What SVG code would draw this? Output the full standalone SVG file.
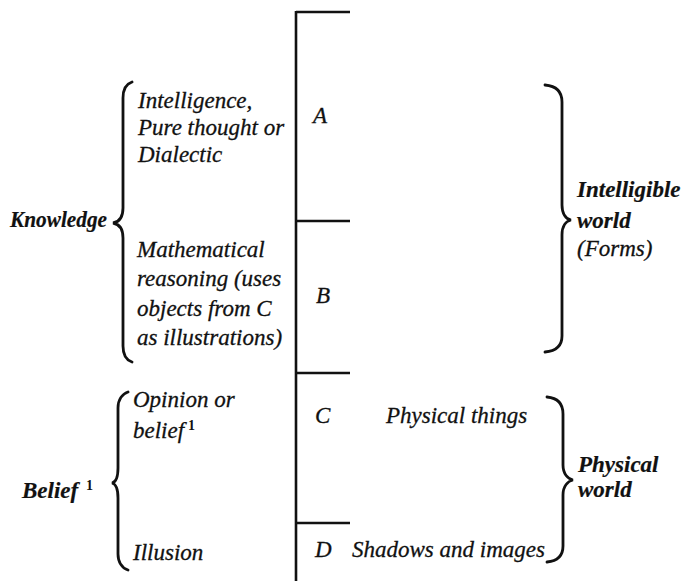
<svg xmlns="http://www.w3.org/2000/svg" width="682" height="581" viewBox="0 0 682 581">
<style>
.t{font-family:"Liberation Serif","Times New Roman",serif;font-style:italic;font-size:23px;fill:#111;stroke:#111;stroke-width:0.3}
.b{font-weight:bold;stroke-width:0.2}
.sup{font-family:"Liberation Serif",serif;font-style:normal;font-weight:bold;font-size:14px;fill:#111}
.ln{stroke:#111;stroke-width:2.6;fill:none}
.br{stroke:#111;stroke-width:2.8;fill:none;stroke-linecap:round}
</style>
<rect width="682" height="581" fill="#fff"/>
<g id="divided-line">
<line class="ln" x1="296" y1="11" x2="296" y2="581"/>
<line class="ln" x1="296" y1="12" x2="350" y2="12"/>
<line class="ln" x1="296" y1="221" x2="350" y2="221"/>
<line class="ln" x1="296" y1="373" x2="350" y2="373"/>
<line class="ln" x1="296" y1="523" x2="350" y2="523"/>
</g>
<g id="connectors">
<path class="br" d="M132,82 C126,84 123,90 123,98 L123,208 C123,217 119,222 113,223 C119,224 123,229 123,238 L123,346 C123,354 126,360 132,362"/>
<path class="br" d="M128,392 C122,394 118,400 118,408 L118,468 C118,477 116,482 112,483 C116,484 118,489 118,498 L118,554 C118,562 122,568 128,570"/>
<path class="br" d="M545,85 C556,86 562,92 562,102 L562,205 C562,214 566,219 571,220 C566,221 562,226 562,235 L562,336 C562,346 556,351 545,352"/>
<path class="br" d="M547,397 C558,398 563,404 563,414 L563,465 C563,474 568,479 573,480 C568,481 563,486 563,495 L563,546 C563,556 558,561 547,562"/>
</g>
<g id="knowledge"><text class="t b" x="10" y="227" textLength="97" lengthAdjust="spacingAndGlyphs">Knowledge</text></g>
<g id="intelligence"><text class="t" x="138" y="108">Intelligence,</text><text class="t" x="138" y="135">Pure thought or</text><text class="t" x="138" y="162">Dialectic</text></g>
<g id="mathematical"><text class="t" x="137" y="257">Mathematical</text><text class="t" x="137" y="286">reasoning (uses</text><text class="t" x="137" y="316">objects from C</text><text class="t" x="137" y="345">as illustrations)</text></g>
<g id="segment-a"><text class="t" x="313" y="123">A</text></g>
<g id="segment-b"><text class="t" x="316" y="303">B</text></g>
<g id="intelligible-world"><text class="t b" x="577" y="197">Intelligible</text><text class="t b" x="577" y="228">world</text><text class="t" x="577" y="256">(Forms)</text></g>
<g id="belief"><text class="t b" x="22" y="498">Belief</text><text class="sup" x="86" y="490">1</text></g>
<g id="opinion"><text class="t" x="133" y="407">Opinion or</text><text class="t" x="133" y="438">belief</text><text class="sup" x="188" y="430">1</text></g>
<g id="illusion"><text class="t" x="133" y="560">Illusion</text></g>
<g id="segment-c"><text class="t" x="315" y="423">C</text><text class="t" x="386" y="423">Physical things</text></g>
<g id="segment-d"><text class="t" x="315" y="557">D</text><text class="t" x="352" y="557">Shadows and images</text></g>
<g id="physical-world"><text class="t b" x="578" y="472">Physical</text><text class="t b" x="578" y="497">world</text></g>
</svg>
